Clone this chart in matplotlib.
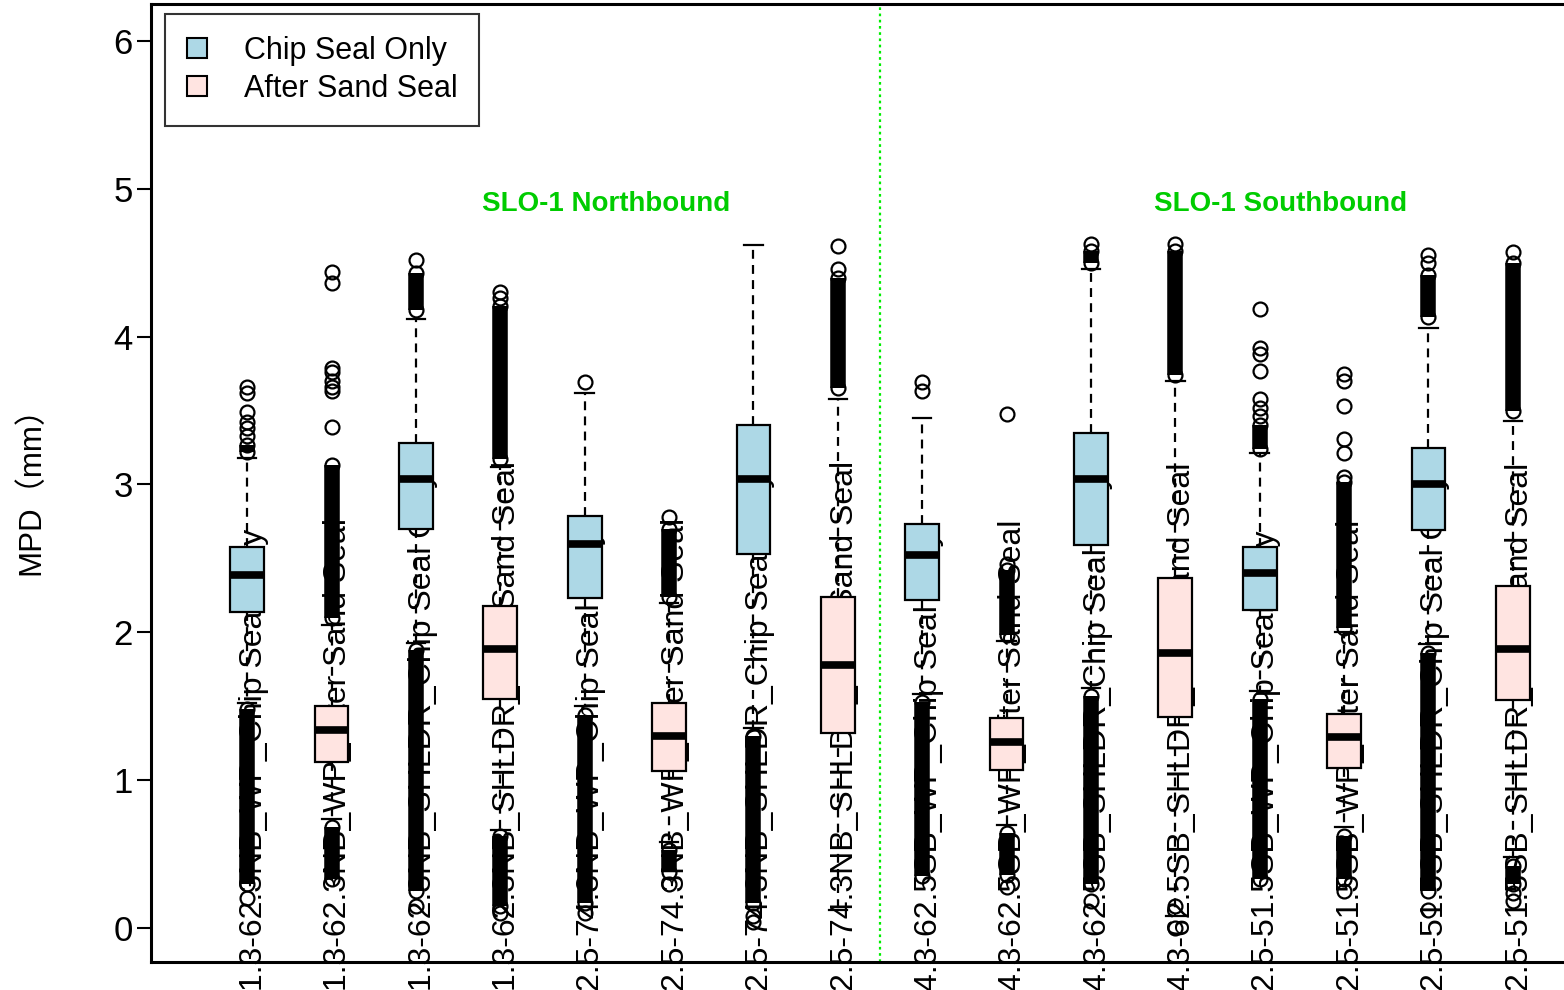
import matplotlib
matplotlib.use('Agg')
import matplotlib.pyplot as plt
import matplotlib.transforms as mtransforms
from matplotlib.patches import Patch
import numpy as np

plt.rcParams['font.family'] = ['Liberation Sans', 'Noto Sans CJK SC', 'DejaVu Sans']

# ---- data ----
labels = ['1.3-62.3NB_WP_Chip Seal Only', '1.3-62.3NB_WP_After Sand Seal',
          '1.3-62.3NB_SHLDR_Chip Seal Only', '1.3-62.3NB_SHLDR_After Sand Seal',
          '2.5-74.3NB_WP_Chip Seal Only', '2.5-74.3NB_WP_After Sand Seal',
          '2.5-74.3NB_SHLDR_Chip Seal Only', '2.5-74.3NB_SHLDR_After Sand Seal',
          '4.3-62.5SB_WP_Chip Seal Only', '4.3-62.5SB_WP_After Sand Seal',
          '4.3-62.5SB_SHLDR_Chip Seal Only', '4.3-62.5SB_SHLDR_After Sand Seal',
          '2.5-51.5SB_WP_Chip Seal Only', '2.5-51.5SB_WP_After Sand Seal',
          '2.5-51.5SB_SHLDR_Chip Seal Only', '2.5-51.5SB_SHLDR_After Sand Seal']
treatment = ['Chip Seal Only', 'After Sand Seal'] * 8

q1 = [2.14, 1.12, 2.70, 1.55, 2.23, 1.06, 2.53, 1.32, 2.22, 1.07, 2.59, 1.43, 2.15, 1.08, 2.69, 1.54]
med = [2.39, 1.34, 3.04, 1.89, 2.60, 1.30, 3.04, 1.78, 2.52, 1.26, 3.04, 1.86, 2.40, 1.29, 3.00, 1.89]
q3 = [2.58, 1.50, 3.28, 2.18, 2.79, 1.52, 3.40, 2.24, 2.73, 1.42, 3.35, 2.37, 2.58, 1.45, 3.25, 2.31]
whis_hi = [3.18, 2.05, 4.12, 3.12, 3.62, 2.20, 4.62, 3.58, 3.45, 1.94, 4.46, 3.70, 3.21, 2.00, 4.06, 3.43]
whis_lo = [1.52, 0.74, 1.93, 0.66, 1.50, 0.58, 1.35, 0.12, 1.58, 0.70, 1.62, 0.08, 1.60, 0.68, 1.92, 0.48]

# outliers so dense they merge into a solid bar: (low, high) ranges
dense_hi = [(3.22, 3.27), (2.10, 3.13), (4.18, 4.43), (3.17, 4.21), None, (2.24, 2.70),
            None, (3.65, 4.40), None, (1.98, 2.42), (4.50, 4.58), (3.74, 4.58),
            (3.24, 3.40), (2.03, 3.02), (4.13, 4.42), (3.50, 4.50)]
dense_lo = [(0.30, 1.48), (0.33, 0.68), (0.25, 1.88), (0.15, 0.62), (0.17, 1.44), (0.38, 0.53),
            (0.17, 1.30), None, (0.35, 1.53), (0.36, 0.64), (0.30, 1.57), None,
            (0.33, 1.55), (0.33, 0.62), (0.25, 1.86), (0.30, 0.42)]
# individual outliers
sparse = [[3.33, 3.38, 3.42, 3.49, 3.62, 3.66, 0.20],
          [3.39, 3.63, 3.66, 3.70, 3.76, 3.79, 4.36, 4.44],
          [4.52, 0.15],
          [4.26, 4.30, 0.10],
          [3.69, 0.10],
          [2.78, 0.30],
          [0.04, 0.08],
          [4.46, 4.61],
          [3.63, 3.69],
          [2.46, 3.48, 0.28],
          [4.63, 0.18],
          [4.63, 0.0, 0.15],
          [3.46, 3.52, 3.58, 3.77, 3.88, 3.92, 4.19],
          [3.05, 3.21, 3.31, 3.53, 3.70, 3.75, 0.25],
          [4.50, 4.55, 0.12],
          [4.57, 0.18, 0.24]]

groups = ['SLO-1 Northbound', 'SLO-1 Southbound']
group_x = [5.25, 13.25]
group_y = 4.90
legend_labels = ['Chip Seal Only', 'After Sand Seal']
colors = {'Chip Seal Only': '#ADD8E6', 'After Sand Seal': '#FFE4E1'}

# ---- figure ----
fig = plt.figure(figsize=(15.64, 9.9), dpi=100)
ax = fig.add_axes([151 / 1564, 28 / 990, 1458 / 1564, 958 / 990])

pos = np.arange(1, len(labels) + 1)
stats = []
for i in range(len(labels)):
    stats.append({'med': med[i], 'q1': q1[i], 'q3': q3[i],
                  'whislo': whis_lo[i], 'whishi': whis_hi[i],
                  'fliers': np.array(sparse[i])})

# dense outlier bars
for i, x in enumerate(pos):
    for rng in (dense_hi[i], dense_lo[i]):
        if rng is None:
            continue
        ax.vlines(x, rng[0], rng[1], colors='black', lw=11.2, zorder=2.5)
        ax.plot([x, x], rng, 'o', ms=10, mfc='none', mec='black', mew=1.6, zorder=2.6)

bp = ax.bxp(stats, positions=pos, widths=0.4, patch_artist=True, capwidths=0.22,
            boxprops=dict(edgecolor='black', linewidth=1.6),
            medianprops=dict(color='black', linewidth=5.5, solid_capstyle='butt'),
            whiskerprops=dict(color='black', linewidth=1.6, linestyle=(0, (4, 2.8))),
            capprops=dict(color='black', linewidth=1.6),
            flierprops=dict(marker='o', ms=10, mfc='none', mec='black', mew=1.6),
            zorder=3)
for patch, t in zip(bp['boxes'], treatment):
    patch.set_facecolor(colors[t])

# labels inside the plot, rotated (as in the original slide)
trans = mtransforms.blended_transform_factory(ax.transData, ax.transAxes)
for x, lab in zip(pos, labels):
    ax.text(x + 0.08, -0.03, lab, rotation=90, ha='center', va='bottom',
            fontsize=23, transform=trans, clip_on=False, zorder=1.5)

ax.axvline(8.5, color='#00EE00', linestyle=(0, (1.2, 1.6)), linewidth=1.6, zorder=1)
for g, gx in zip(groups, group_x):
    ax.text(gx, group_y, g, color='#00CC00', fontsize=20, fontweight='bold',
            ha='center', va='center')

ax.set_xlim(-0.14, 17.14)
ax.set_ylim(-0.23, 6.25)
ax.set_xticks([])
ax.set_yticks(range(0, 7))
ax.tick_params(axis='y', labelsize=25, length=10, width=1.5, pad=3)
for s in ['left', 'top', 'bottom']:
    ax.spines[s].set_linewidth(2.2)
ax.spines['right'].set_visible(False)

ax.set_ylabel('MPD（mm）', fontsize=22.5)
ax.yaxis.set_label_coords(-0.072, 0.5)

handles = [Patch(facecolor=colors[t], edgecolor='black', linewidth=1.5) for t in legend_labels]
leg = ax.legend(handles, legend_labels, loc='upper left', bbox_to_anchor=(0.0096, 0.9896),
                borderaxespad=0, fontsize=22, frameon=True, fancybox=False,
                handlelength=0.65, handleheight=0.65, handletextpad=1.2,
                borderpad=0.72, labelspacing=0.25)
leg.get_frame().set_edgecolor('black')
leg.get_frame().set_linewidth(1.5)

fig.savefig('out.png', dpi=100)
